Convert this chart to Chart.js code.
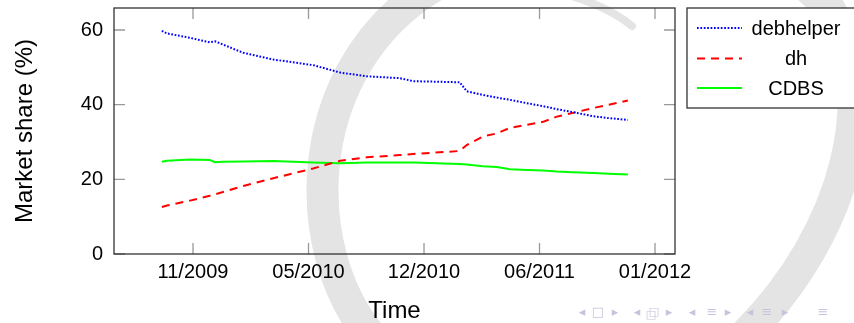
<!DOCTYPE html>
<html>
<head>
<meta charset="utf-8">
<script src="https://cdn.jsdelivr.net/npm/chart.js@4.4.0/dist/chart.umd.min.js"></script>
<style>
  html, body { margin: 0; padding: 0; background: #fff; }
</style>
</head>
<body>
<canvas id="chart" width="854" height="323"></canvas>
<script>
// x values are days counted from 2009-11-01
const days      = [-54, -45, -5, 29, 38, 52, 87, 139, 208, 255, 301, 358, 381, 462, 474, 502, 526, 549, 578, 606, 630, 658, 693, 720, 753];
const debhelper = [59.8, 59.1, 57.9, 56.7, 57.0, 56.1, 53.9, 52.1, 50.6, 48.6, 47.6, 47.1, 46.3, 46.0, 43.6, 42.6, 41.9, 41.3, 40.4, 39.6, 38.8, 38.0, 36.9, 36.4, 35.9];
const dh        = [12.6, 13.0, 14.3, 15.6, 16.0, 16.6, 18.2, 20.3, 22.9, 25.0, 25.9, 26.5, 26.8, 27.6, 29.2, 31.5, 32.3, 33.8, 34.6, 35.4, 36.8, 37.8, 39.1, 40.0, 41.1];
const cdbs      = [24.7, 25.0, 25.3, 25.2, 24.6, 24.7, 24.8, 24.9, 24.5, 24.3, 24.5, 24.5, 24.5, 24.1, 24.0, 23.5, 23.3, 22.7, 22.5, 22.4, 22.1, 21.9, 21.7, 21.5, 21.3];

const xTickDays   = [0, 200, 400, 600, 800];
const xTickLabels = ['11/2009', '05/2010', '12/2010', '06/2011', '01/2012'];
const yTicks      = [0, 20, 40, 60];

const FONT = "'Liberation Sans', Arial, sans-serif";

const toPoints = vals => vals.map((v, i) => ({ x: days[i], y: v }));

// slide background, axis frame with inward ticks, boxed legend
const decor = {
    id: 'decor',
    beforeDraw(chart) {
        const ctx = chart.ctx;
        ctx.save();
        ctx.strokeStyle = '#e4e4e4';
        ctx.lineCap = 'round';
        ctx.lineWidth = 32;
        ctx.beginPath();
        ctx.moveTo(370, 335);
        ctx.bezierCurveTo(300, 250, 300, 80, 420, -5);
        ctx.bezierCurveTo(560, -100, 760, -80, 830, 10);
        ctx.bezierCurveTo(880, 90, 850, 230, 745, 335);
        ctx.stroke();
        ctx.lineWidth = 8;
        ctx.beginPath();
        ctx.moveTo(572, -4);
        ctx.quadraticCurveTo(610, 8, 632, 26);
        ctx.stroke();
        ctx.restore();
    },
    afterDatasetsDraw(chart) {
        const { ctx, chartArea: a, scales: { x, y } } = chart;
        ctx.save();
        ctx.strokeStyle = '#999';
        ctx.lineWidth = 1.3;
        ctx.beginPath();
        xTickDays.forEach(v => {
            const px = x.getPixelForValue(v);
            ctx.moveTo(px, a.bottom); ctx.lineTo(px, a.bottom - 11);
            ctx.moveTo(px, a.top); ctx.lineTo(px, a.top + 11);
        });
        yTicks.forEach(v => {
            const py = y.getPixelForValue(v);
            ctx.moveTo(a.left, py); ctx.lineTo(a.left + 11, py);
            ctx.moveTo(a.right, py); ctx.lineTo(a.right - 11, py);
        });
        ctx.stroke();
        ctx.strokeStyle = '#333';
        ctx.strokeRect(a.left, a.top, a.right - a.left, a.bottom - a.top);
        ctx.restore();
    },
    afterDraw(chart) {
        const ctx = chart.ctx;
        ctx.save();
        // legend
        ctx.fillStyle = '#fff';
        ctx.fillRect(687, 8, 180, 100);
        ctx.strokeStyle = '#333';
        ctx.lineWidth = 1.3;
        ctx.strokeRect(687, 8, 180, 100);
        const rows = [28, 58.5, 88];
        ctx.font = '20px ' + FONT;
        ctx.textAlign = 'center';
        ctx.textBaseline = 'middle';
        chart.data.datasets.forEach((ds, i) => {
            ctx.strokeStyle = ds.borderColor;
            ctx.lineWidth = ds.borderWidth;
            ctx.setLineDash(ds.borderDash || []);
            ctx.beginPath();
            ctx.moveTo(697, rows[i]);
            ctx.lineTo(742, rows[i]);
            ctx.stroke();
            ctx.fillStyle = '#000';
            ctx.fillText(ds.label, 796, rows[i] + 1);
        });
        ctx.setLineDash([]);
        // beamer navigation symbols
        ctx.fillStyle = '#c4c4dc';
        ctx.font = '13px DejaVu Sans';
        const nav = [['◂', 582], ['□', 598], ['▸', 615], ['◂', 637], ['▸', 669],
                     ['◂', 692], ['≡', 712], ['▸', 728], ['◂', 750], ['≡', 767], ['▸', 785], ['≡', 823]];
        nav.forEach(([c, px]) => ctx.fillText(c, px, 313));
        ctx.font = '11px DejaVu Sans';
        ctx.fillText('□', 651, 315);
        ctx.fillText('□', 654, 312);
        ctx.restore();
    }
};

new Chart(document.getElementById('chart'), {
    type: 'line',
    data: {
        datasets: [
            { label: 'debhelper', data: toPoints(debhelper), borderColor: '#0000ff', borderWidth: 2, borderDash: [1.7, 1.7], pointRadius: 0 },
            { label: 'dh', data: toPoints(dh), borderColor: '#ff0000', borderWidth: 2, borderDash: [8, 6], pointRadius: 0 },
            { label: 'CDBS', data: toPoints(cdbs), borderColor: '#00ff00', borderWidth: 2, pointRadius: 0 }
        ]
    },
    options: {
        responsive: false,
        animation: false,
        layout: { padding: { top: 8, right: 179, left: 0, bottom: 0 } },
        plugins: { legend: { display: false }, tooltip: { enabled: false } },
        scales: {
            x: {
                type: 'linear',
                min: -136.8,
                max: 834.6,
                afterBuildTicks: s => { s.ticks = xTickDays.map(v => ({ value: v })); },
                afterFit: s => { s.height = 69; s.paddingLeft = 0; s.paddingRight = 0; },
                ticks: {
                    callback: v => xTickLabels[xTickDays.indexOf(v)],
                    font: { family: FONT, size: 20 },
                    color: '#000',
                    padding: 6,
                    maxRotation: 0,
                    autoSkip: false
                },
                grid: { display: false, drawTicks: false },
                border: { display: false },
                title: {
                    display: true,
                    text: 'Time',
                    color: '#000',
                    font: { family: FONT, size: 24, lineHeight: 1 },
                    padding: { top: 0, bottom: 0 }
                }
            },
            y: {
                min: 0,
                max: 65.9,
                afterBuildTicks: s => { s.ticks = yTicks.map(v => ({ value: v })); },
                afterFit: s => { s.width = 114; s.paddingTop = 0; s.paddingBottom = 0; },
                ticks: {
                    font: { family: FONT, size: 20 },
                    color: '#000',
                    padding: 11
                },
                grid: { display: false, drawTicks: false },
                border: { display: false },
                title: {
                    display: true,
                    text: 'Market share (%)',
                    color: '#000',
                    font: { family: FONT, size: 24, lineHeight: 1 },
                    padding: { top: 13, bottom: 0 }
                }
            }
        }
    },
    plugins: [decor]
});
</script>
</body>
</html>
